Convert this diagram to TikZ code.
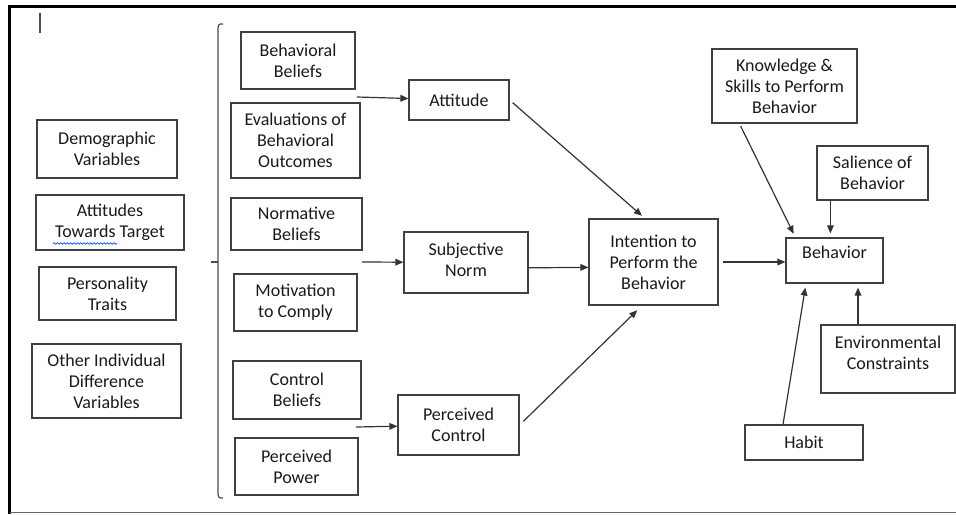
\documentclass[tikz,border=0pt]{standalone}
\usepackage{fontspec}
\setmainfont{Carlito}
\usetikzlibrary{positioning,arrows.meta,decorations.pathmorphing}
\tikzset{
  factorbox/.style={rectangle,draw=black!75,line width=0.9pt,inner sep=0pt,align=center,
    text=black!90,font=\fontsize{13.5}{15.75}\selectfont},
  flow/.style={draw=black!80,line width=0.9pt,-{Triangle[length=6pt,width=5pt]}},
  frameline/.style={draw=black,line width=2.3pt}
}
\begin{document}
\begin{tikzpicture}[x=0.75pt,y=-0.75pt]
\useasboundingbox (0,0) rectangle (956,514);
\draw[frameline] (9.5,514) -- (9.5,6.5) -- (956,6.5);
\draw[black!60,line width=1.1pt] (9.5,512.5) -- (956,512.5);
\draw[black!70,line width=1pt] (40,13) -- (40,33);
\draw[black!70,line width=0.9pt] (223,24) .. controls (218.5,24) .. (218,29) -- (218,493) .. controls (218.5,498) .. (223,498);
\draw[black!70,line width=0.9pt] (211,262) -- (218,262);

\node[factorbox,minimum width=105pt,minimum height=43.5pt] (demo) at (107,149) {Demographic\\Variables};
\node[factorbox,minimum width=111pt,minimum height=41.25pt] (towards) at (110,222.5) {Attitudes\\Towards Target};
\node[factorbox,minimum width=102.75pt,minimum height=39.75pt] (pers) at (107.5,293.5) {Personality\\Traits};
\node[factorbox,minimum width=111.75pt,minimum height=55.5pt] (other) at (106.5,381) {Other Individual\\Difference\\Variables};
\draw[blue!70!cyan,line width=0.5pt,decorate,decoration={snake,amplitude=0.6pt,segment length=2.5pt}] (53,243.5) -- (117,243.5);

\node[factorbox,minimum width=85.5pt,minimum height=42.75pt] (bbel) at (298,60.5) {Behavioral\\Beliefs};
\node[factorbox,minimum width=96.75pt,minimum height=56.25pt] (evalo) at (295.5,140.5) {Evaluations of\\Behavioral\\Outcomes};
\node[factorbox,minimum width=98.25pt,minimum height=39pt] (nbel) at (296.5,224) {Normative\\Beliefs};
\node[factorbox,minimum width=92.25pt,minimum height=42.75pt] (motiv) at (295.5,302.5) {Motivation\\to Comply};
\node[factorbox,minimum width=96pt,minimum height=43.5pt] (cbel) at (297,390) {Control\\Beliefs};
\node[factorbox,minimum width=92.25pt,minimum height=42.75pt] (ppow) at (296.5,466.5) {Perceived\\Power};

\node[factorbox,minimum width=75pt,minimum height=30pt] (att) at (459,100) {Attitude};
\node[factorbox,minimum width=93pt,minimum height=45.75pt,text depth=4.5pt] (snorm) at (466,262.5) {Subjective\\Norm};
\node[factorbox,minimum width=90.75pt,minimum height=45pt] (pctrl) at (458.5,425) {Perceived\\Control};
\node[factorbox,minimum width=96.75pt,minimum height=64.5pt] (intent) at (653.5,262) {Intention to\\Perform the\\Behavior};

\node[factorbox,minimum width=72.75pt,minimum height=33.75pt,text depth=12pt] (behav) at (834.5,260.5) {Behavior};
\node[factorbox,minimum width=108.75pt,minimum height=55.5pt] (know) at (784.5,86) {Knowledge \&\\Skills to Perform\\Behavior};
\node[factorbox,minimum width=83.25pt,minimum height=40.5pt] (sal) at (872.5,173) {Salience of\\Behavior};
\node[factorbox,minimum width=88.5pt,minimum height=26.25pt] (habit) at (804,442.5) {Habit};
\node[factorbox,minimum width=100.5pt,minimum height=51pt,text depth=10pt] (env) at (888,359) {Environmental\\Constraints};

\coordinate (attin) at (357,97);
\coordinate (snin) at (362,262);
\coordinate (pcin) at (356,427);
\draw[flow] (attin) -- (att);
\draw[flow] (snin) -- (snorm);
\draw[flow] (pcin) -- (pctrl);
\draw[flow,shorten <=3pt,shorten >=3pt] (att.east) -- ([xshift=-6.4pt]intent.north);
\draw[flow] ([yshift=-4pt]snorm.east) -- ([yshift=-4pt]intent.west);
\draw[flow,shorten <=4pt,shorten >=5pt] (pctrl.east) -- ([xshift=-8.6pt]intent.south);
\draw[flow,shorten <=3pt] (intent.east) -- (intent.east -| behav.west);
\draw[flow,shorten <=2pt,shorten >=3pt] ([xshift=21pt]know.south west) -- ([xshift=7.5pt]behav.north west);
\draw[flow,shorten >=3pt] ([xshift=10.5pt]sal.south west) -- ([xshift=10.5pt]sal.south west |- behav.north);
\draw[flow,shorten >=3pt] ([xshift=-15.75pt]habit.north) -- ([xshift=-21.4pt]behav.south);
\draw[flow,shorten >=3pt] ([xshift=-22.5pt]env.north) -- ([xshift=-22.5pt]env.north |- behav.south);
\end{tikzpicture}
\end{document}
